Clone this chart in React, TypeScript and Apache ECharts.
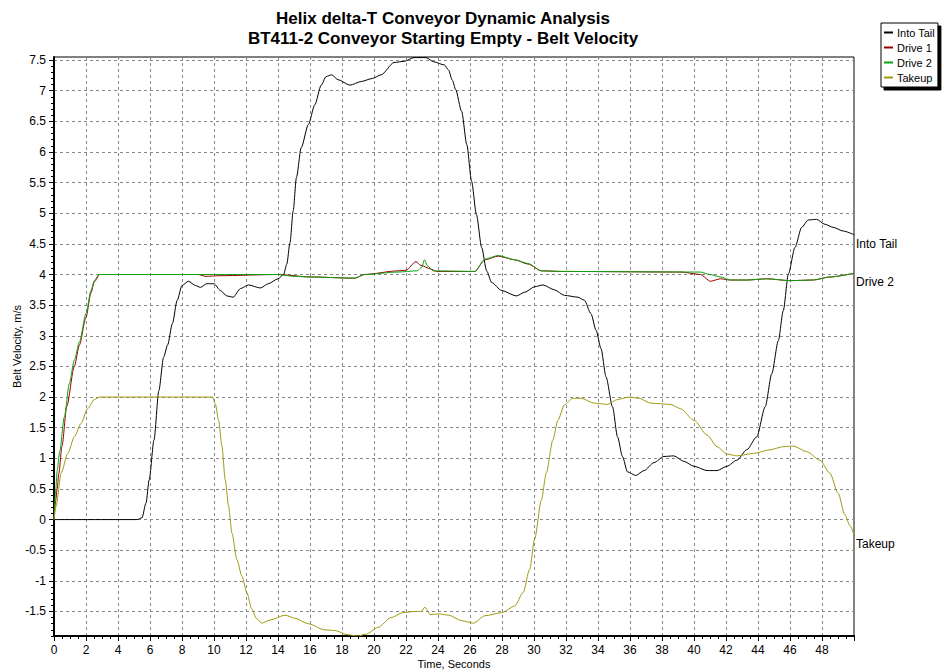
import React, { useEffect, useRef } from "react";
import * as echarts from "echarts";

const titleLines = [
  "Helix delta-T Conveyor Dynamic Analysis",
  "BT411-2 Conveyor Starting Empty - Belt Velocity",
];
const seriesNames = ["Into Tail", "Drive 1", "Drive 2", "Takeup"];
const xTickLabels = [0, 2, 4, 6, 8, 10, 12, 14, 16, 18, 20, 22, 24, 26, 28, 30, 32, 34, 36, 38, 40, 42, 44, 46, 48];
const yTickValues = [-1.5, -1, -0.5, 0, 0.5, 1, 1.5, 2, 2.5, 3, 3.5, 4, 4.5, 5, 5.5, 6, 6.5, 7, 7.5];

const intoTail: number[][] = [
  [0, 0], [5.2, 0], [5.5, 0.03], [5.75, 0.27], [5.95, 0.65], [6.25, 1.3], [6.55, 2.1], [6.85, 2.65],
  [7.1, 2.85], [7.4, 3.2], [7.7, 3.58], [8.0, 3.82], [8.4, 3.89], [8.85, 3.82], [9.15, 3.79], [9.55, 3.85],
  [10.0, 3.85], [10.4, 3.74], [10.8, 3.65], [11.2, 3.63], [11.65, 3.77], [12.15, 3.83], [12.9, 3.78],
  [13.4, 3.85], [14.0, 3.93], [14.35, 4.0], [14.55, 4.17], [14.75, 4.52], [14.95, 5.04], [15.15, 5.58],
  [15.45, 6.07], [15.9, 6.45], [16.3, 6.77], [16.7, 7.09], [17.0, 7.23], [17.35, 7.26], [17.75, 7.18],
  [18.5, 7.09], [19.2, 7.15], [19.9, 7.2], [20.45, 7.26], [21.25, 7.46], [21.9, 7.48], [22.5, 7.54],
  [23.25, 7.54], [23.75, 7.47], [24.4, 7.42], [24.65, 7.34], [24.9, 7.17], [25.1, 7.02], [25.48, 6.66],
  [25.8, 6.12], [26.1, 5.52], [26.4, 4.98], [26.73, 4.44], [27.04, 4.06], [27.35, 3.87], [27.97, 3.74],
  [28.9, 3.65], [29.42, 3.71], [30.04, 3.8], [30.56, 3.83], [31.28, 3.75], [31.9, 3.66], [32.74, 3.63],
  [33.15, 3.58], [33.56, 3.36], [33.88, 3.09], [34.19, 2.79], [34.5, 2.33], [34.91, 1.84], [35.22, 1.35],
  [35.53, 1.03], [35.84, 0.78], [36.36, 0.72], [36.88, 0.8], [37.5, 0.93], [38.12, 1.03], [38.74, 1.04],
  [39.37, 0.95], [40.0, 0.87], [40.82, 0.8], [41.44, 0.8], [42.06, 0.87], [42.68, 0.97], [43.3, 1.14],
  [43.92, 1.35], [44.45, 1.84], [44.86, 2.38], [45.27, 2.92], [45.58, 3.41], [45.9, 4.01], [46.31, 4.44],
  [46.73, 4.77], [47.14, 4.89], [47.66, 4.9], [48.18, 4.82], [48.7, 4.77], [49.32, 4.71], [50, 4.65],
];

const drive1: number[][] = [
  [0, 0], [0.1, 0.3], [0.2, 0.5], [0.3, 0.75], [0.5, 1.2], [0.8, 1.85], [1.27, 2.5], [1.59, 2.85],
  [2.0, 3.3], [2.31, 3.7], [2.52, 3.88], [2.85, 4.0], [9.0, 4.0], [9.5, 3.97], [10.3, 3.98], [14.0, 4.0],
  [16.0, 3.96], [18.8, 3.94], [19.4, 4.0], [21.5, 4.06], [22.0, 4.07], [22.62, 4.21], [22.93, 4.15],
  [23.55, 4.09], [23.9, 4.05], [26.3, 4.05], [26.93, 4.24], [27.76, 4.3], [28.8, 4.24], [29.63, 4.17],
  [30.46, 4.06], [31.8, 4.05], [39.2, 4.04], [40.4, 4.0], [41.03, 3.89], [41.65, 3.93], [42.27, 3.91],
  [43.3, 3.91], [44.55, 3.93], [46.0, 3.9], [47.45, 3.91], [48.5, 3.96], [50, 4.02],
];

const drive2: number[][] = [
  [0, 0], [0.1, 0.45], [0.2, 0.8], [0.35, 1.1], [0.65, 1.68], [0.96, 2.22], [1.27, 2.6], [1.59, 2.9],
  [2.0, 3.36], [2.31, 3.74], [2.52, 3.9], [2.8, 4.0], [14.0, 4.0], [15.0, 3.97], [16.0, 3.96], [18.8, 3.94],
  [19.4, 4.0], [21.5, 4.04], [22.7, 4.06], [23.0, 4.12], [23.15, 4.24], [23.35, 4.14], [23.7, 4.06],
  [26.3, 4.05], [26.93, 4.25], [27.76, 4.31], [28.8, 4.24], [29.63, 4.18], [30.46, 4.06], [31.8, 4.05],
  [40.4, 4.04], [41.0, 4.0], [41.65, 3.96], [42.27, 3.91], [43.3, 3.91], [44.55, 3.93], [46.0, 3.9],
  [47.45, 3.91], [48.5, 3.96], [50, 4.02],
];

const takeup: number[][] = [
  [0, 0], [0.13, 0.22], [0.45, 0.76], [0.86, 1.08], [1.27, 1.35], [1.69, 1.57], [2.1, 1.81], [2.52, 1.96],
  [2.85, 2.0], [9.9, 2.0], [10.08, 1.89], [10.29, 1.62], [10.5, 1.19], [10.7, 0.65], [10.91, 0.22],
  [11.12, -0.22], [11.43, -0.65], [11.74, -0.92], [12.05, -1.19], [12.36, -1.46], [12.67, -1.62],
  [12.98, -1.69], [13.5, -1.64], [14.44, -1.56], [15.06, -1.61], [15.89, -1.7], [16.92, -1.8],
  [17.54, -1.81], [18.37, -1.88], [18.99, -1.9], [19.51, -1.87], [20.24, -1.76], [21.07, -1.6],
  [21.79, -1.52], [22.52, -1.5], [22.95, -1.5], [23.18, -1.43], [23.5, -1.55], [24.07, -1.54],
  [24.65, -1.56], [25.48, -1.65], [26.21, -1.69], [26.93, -1.57], [27.97, -1.52], [28.8, -1.41],
  [29.32, -1.19], [29.73, -0.81], [30.04, -0.32], [30.46, 0.32], [30.77, 0.76], [31.18, 1.3],
  [31.49, 1.62], [31.9, 1.87], [32.42, 1.98], [32.94, 1.98], [33.77, 1.9], [34.6, 1.88], [35.22, 1.96],
  [35.94, 2.0], [36.57, 1.98], [37.3, 1.9], [38.54, 1.88], [39.16, 1.81], [40.0, 1.62], [40.82, 1.38],
  [41.44, 1.19], [42.06, 1.07], [42.68, 1.04], [43.72, 1.08], [44.76, 1.14], [45.58, 1.19], [46.21, 1.2],
  [47.04, 1.11], [47.87, 0.97], [48.49, 0.76], [49.01, 0.43], [49.43, 0.08], [49.75, -0.1], [50, -0.25],
];

const seriesData = [intoTail, drive1, drive2, takeup];
const seriesColors = ["#000000", "#9a0000", "#10a010", "#a09a10"];
const endLabels = ["Into Tail", "", "Drive 2", "Takeup"];

const FONT = "Liberation Sans, Arial, sans-serif";

export default function App() {
  const ref = useRef<HTMLDivElement>(null);
  useEffect(() => {
    if (!ref.current) return;
    const chart = echarts.init(ref.current, undefined, { renderer: "svg" });
    const minorY: number[] = [];
    for (let i = -19; i <= 75; i++) minorY.push(i / 10);
    chart.setOption({
      animation: false,
      backgroundColor: "#ffffff",
      textStyle: { fontFamily: FONT },
      title: {
        text: titleLines.join("\n"),
        left: 438,
        top: 3,
        textAlign: "center",
        textStyle: { fontFamily: FONT, fontSize: 17, fontWeight: "bold", color: "#000", lineHeight: 20 },
      },
      legend: {
        data: seriesNames,
        orient: "vertical",
        left: 881,
        top: 23,
        icon: "rect",
        itemWidth: 9,
        itemHeight: 2,
        itemGap: 2,
        padding: [3, 3, 3, 3],
        backgroundColor: "#fff",
        borderColor: "#000",
        borderWidth: 1,
        borderRadius: 0,
        shadowColor: "#000",
        shadowBlur: 0,
        shadowOffsetX: 3,
        shadowOffsetY: 3,
        textStyle: { fontFamily: FONT, fontSize: 11, color: "#000", padding: [0, 0, 0, -1], lineHeight: 13 },
      },
      grid: {
        left: 54,
        right: 90,
        top: 57,
        bottom: 36,
        show: true,
        borderColor: "#000",
        borderWidth: 1,
        backgroundColor: "#fff",
        containLabel: false,
        outerBoundsMode: "none",
      },
      xAxis: {
        type: "value",
        min: 0,
        max: 50,
        interval: 2,
        name: "Time, Seconds",
        nameLocation: "middle",
        nameGap: 22,
        nameMoveOverlap: false,
        nameTextStyle: { fontFamily: FONT, fontSize: 11, color: "#000" },
        axisLine: { show: true, onZero: false, lineStyle: { color: "#000", width: 2 } },
        axisTick: { show: true, length: 5, lineStyle: { color: "#000" } },
        minorTick: { show: true, splitNumber: 4, length: 3, lineStyle: { color: "#000" } },
        axisLabel: {
          fontFamily: FONT,
          fontSize: 12,
          color: "#000",
          margin: 8,
          showMaxLabel: false,
          formatter: (v: number) => (xTickLabels.includes(v) ? String(v) : ""),
        },
        splitLine: { show: true, lineStyle: { color: "#888", type: [3, 3], width: 1 } },
      },
      yAxis: [
        {
          type: "value",
          min: -1.9,
          max: 7.55,
          name: "Belt Velocity, m/s",
          nameLocation: "middle",
          nameGap: 32,
          nameMoveOverlap: false,
          nameTextStyle: { fontFamily: FONT, fontSize: 11, color: "#000" },
          axisLine: { show: true, onZero: false, lineStyle: { color: "#000", width: 2 } },
          axisTick: { show: true, length: 5, customValues: yTickValues, lineStyle: { color: "#000" } },
          axisLabel: { fontFamily: FONT, fontSize: 12, color: "#000", margin: 8, customValues: yTickValues },
          splitLine: { show: true, lineStyle: { color: "#888", type: [3, 3], width: 1 } },
        },
        {
          type: "value",
          min: -1.9,
          max: 7.55,
          position: "left",
          offset: 0,
          axisLine: { show: false, onZero: false },
          axisTick: { show: true, length: 3, customValues: minorY, lineStyle: { color: "#000" } },
          axisLabel: { show: false },
          splitLine: { show: false },
        },
      ],
      series: seriesNames.map((name, i) => ({
        name,
        type: "line",
        data: seriesData[i],
        yAxisIndex: 0,
        symbol: "none",
        smooth: 0.25,
        smoothMonotone: "x",
        lineStyle: { color: seriesColors[i], width: 1 },
        itemStyle: { color: seriesColors[i] },
        emphasis: { disabled: true },
        endLabel: endLabels[i]
          ? {
              show: true,
              formatter: endLabels[i],
              distance: 2,
              offset: [0, 9],
              fontFamily: FONT,
              fontSize: 12,
              color: "#000",
            }
          : { show: false },
      })),
    });
    return () => chart.dispose();
  }, []);
  return (
    <div
      ref={ref}
      style={{ position: "fixed", left: 0, top: 0, width: 944, height: 672, background: "#fff" }}
    />
  );
}
